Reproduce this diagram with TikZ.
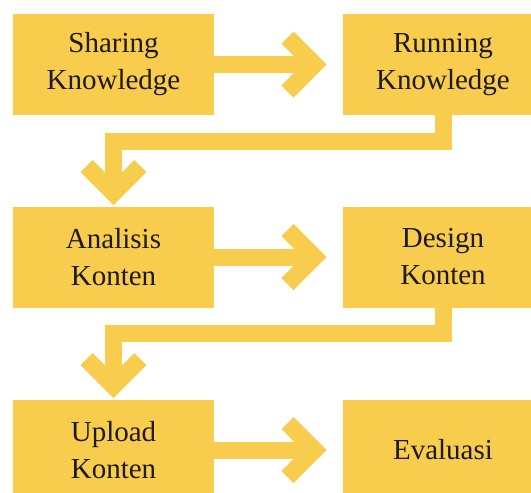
\documentclass[tikz,border=0pt]{standalone}
\usepackage{fontspec}
\setmainfont{Liberation Serif}
\definecolor{gold}{RGB}{248,204,77}
\definecolor{ink}{RGB}{30,25,20}
\tikzset{
  stage/.style={rectangle, fill=gold, minimum width=201pt, minimum height=101pt,
    inner sep=0pt, align=center, text=ink, font=\fontsize{29}{37}\selectfont},
  flow/.style={draw=gold, line width=17pt, line join=miter},
}
\begin{document}
\begin{tikzpicture}[x=1pt,y=-1pt]
      \clip (0,0) rectangle (531,493);
      \draw
        (113.5,64.5) node[stage] (sk){Sharing\\Knowledge}
        (443,64.5) node[stage] (rk){Running\\Knowledge}
        (113.5,257) node[stage] (ak){Analisis\\Konten}
        (443,257) node[stage] (dk){Design\\Konten}
        (113.5,450) node[stage] (uk){Upload\\Konten}
        (443,450) node[stage] (ev){Evaluasi};
      \coordinate (h1) at (314.5,64.5);
      \coordinate (h2) at (314.5,257);
      \coordinate (h3) at (314.5,450);
      \coordinate (d1) at (113.5,193);
      \coordinate (d2) at (113.5,386);
      \begin{scope}[flow]
        \draw (sk.east) -- (h1);
        \draw (h1) ++(-27,-27) -- (h1) -- ++(-27,27);
        \draw (rk.south) -- ++(0,26) -| (d1);
        \draw (d1) ++(-27,-27) -- (d1) -- ++(27,-27);
        \draw (ak.east) -- (h2);
        \draw (h2) ++(-27,-27) -- (h2) -- ++(-27,27);
        \draw (dk.south) -- ++(0,26) -| (d2);
        \draw (d2) ++(-27,-27) -- (d2) -- ++(27,-27);
        \draw (uk.east) -- (h3);
        \draw (h3) ++(-27,-27) -- (h3) -- ++(-27,27);
      \end{scope}
    \end{tikzpicture}
\end{document}
